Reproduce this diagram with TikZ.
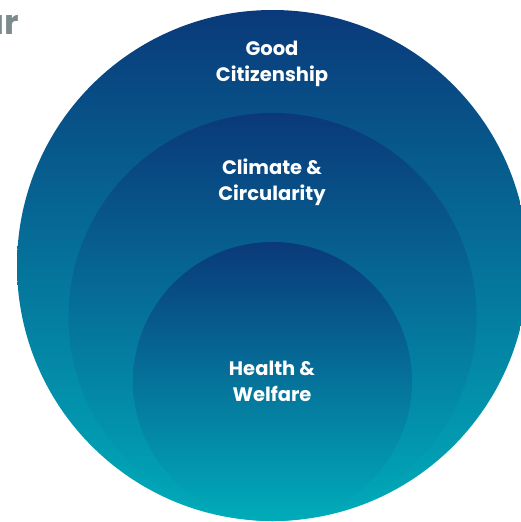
\documentclass[tikz,border=0pt]{standalone}
\usepackage{fontspec}
\setmainfont{Poppins}
\usepackage{xcolor}
\usepackage{tikz}
\definecolor{ringtop}{RGB}{10,57,122}
\definecolor{ringbottom}{RGB}{0,172,186}
\definecolor{headgray}{RGB}{125,138,142}

\begin{document}
\begin{tikzpicture}[x=1pt,y=-1pt,
  ringfill/.style={top color=ringtop,bottom color=ringbottom,draw=none},
  ringtext/.style={text=white,font=\fontsize{19.5}{26}\selectfont\bfseries,align=center}]
\useasboundingbox (0,0) rectangle (521,522);
% Rings, all touching at the bottom
\shade[ringfill] (272.5,265.5) circle (255.5);
\shade[ringfill] (272.5,317) circle (204);
\shade[ringfill] (272.5,381.5) circle (139.5);

\node[ringtext] (citizen) at (272,64) {Good\\Citizenship};
\node[ringtext] (climate) at (272,182) {Climate \&\\Circularity};
\node[ringtext] (health) at (272,381.5) {Health \&\\Welfare};

% cut-off heading
\node[anchor=west,inner sep=0pt,text=headgray,font=\fontsize{34}{34}\selectfont\bfseries] (head) at (-19,25) {ur};
\end{tikzpicture}
\end{document}
